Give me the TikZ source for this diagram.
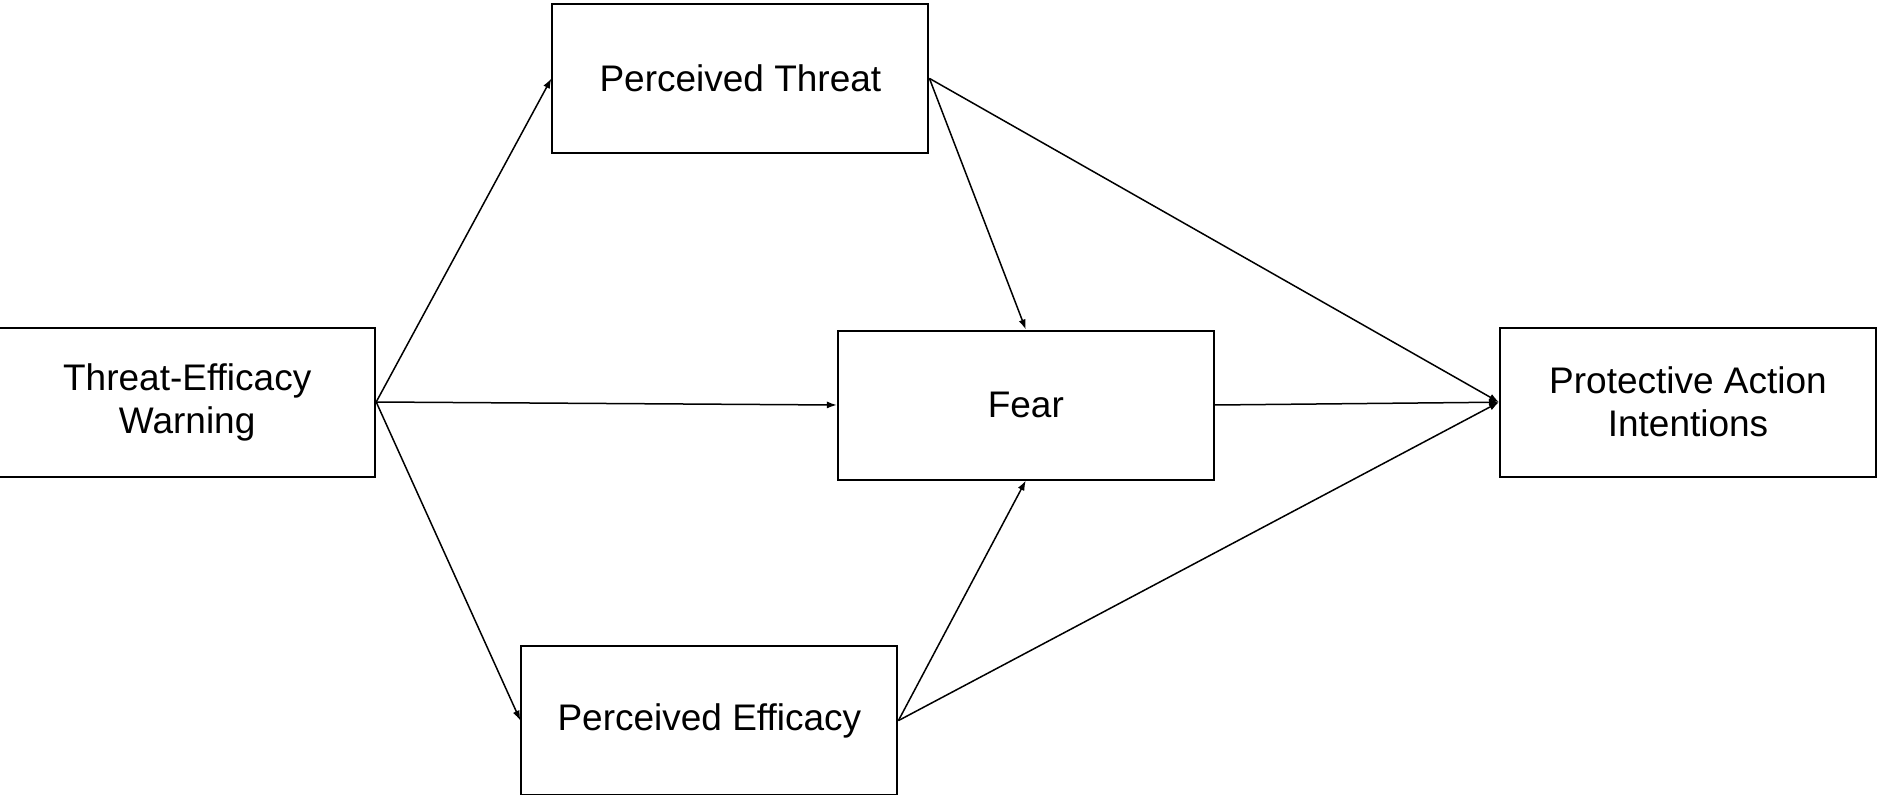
\documentclass[tikz,border=0pt]{standalone}
\usepackage{fontspec}
\setmainfont{Liberation Sans}
\usetikzlibrary{arrows.meta, positioning}

\begin{document}
\begin{tikzpicture}[
  x=1pt, y=1pt,
  % Base style for boxes
  varbox/.style={draw, line width=1pt, minimum width=188pt, minimum height=74.5pt,
    inner sep=2pt, align=center, font=\fontsize{18.5}{21.5}\selectfont},
  % Style for paths
  path/.style={-{Latex[length=5pt, width=3.6pt]}, line width=0.75pt},
]

  \useasboundingbox (0,0) rectangle (939.5,397);

  % Boxes
  \node[varbox] (warn) at (93.6,196) {Threat-Efficacy\\Warning};
  \node[varbox] (threat) at (370.2,357.8) {Perceived Threat};
  \node[varbox] (efficacy) at (354.7,36.7) {Perceived Efficacy};
  \node[varbox] (fear) at (512.9,194.5) {Fear};
  \node[varbox] (intent) at (844,195.9) {Protective Action\\Intentions};

  % Paths from the warning
  \draw[path] (warn.east) -- (threat.west);
  \draw[path] (warn.east) -- (fear.west);
  \draw[path] (warn.east) -- (efficacy.west);

  % Paths into fear
  \draw[path] (threat.east) -- (fear.north);
  \draw[path] (efficacy.east) -- (fear.south);

  % Paths into intentions
  \draw[path] (threat.east) -- (intent.west);
  \draw[path] (fear.east) -- (intent.west);
  \draw[path] (efficacy.east) -- (intent.west);

\end{tikzpicture}
\end{document}
